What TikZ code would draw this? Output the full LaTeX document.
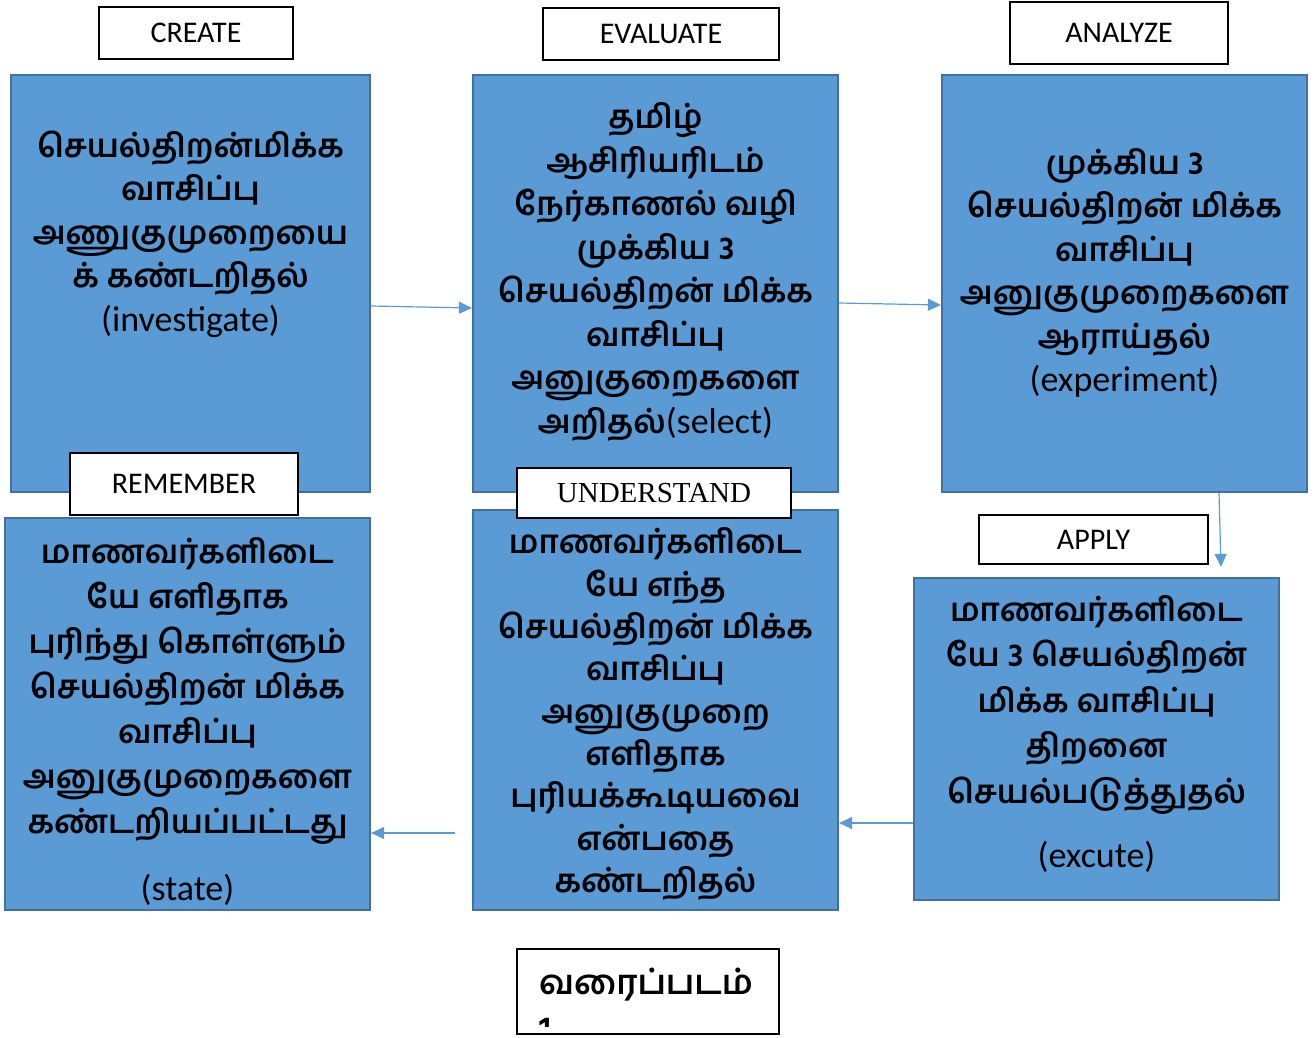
\documentclass[tikz,border=0pt]{standalone}
\usepackage{fontspec}
\setmainfont{Carlito}
\newfontfamily\tamilf[Script=Tamil]{Hind Madurai}
\newfontfamily\timesf{Liberation Serif}
\usetikzlibrary{arrows.meta}
\definecolor{boxfill}{HTML}{5B9BD5}
\definecolor{boxline}{HTML}{41719C}
\definecolor{arrowc}{HTML}{5B9BD5}
\setlength{\lineskiplimit}{-100pt}
\newcommand\latpart[1]{{\rmfamily\mdseries\fontsize{36}{44}\selectfont #1}}
\newcommand\lbltext[1]{\raisebox{-3pt}{#1}}
\begin{document}
\begin{tikzpicture}[x=1pt,y=-1pt,
  bluebox/.style={draw=boxline,line width=2.2pt,fill=boxfill,inner sep=0pt},
  labelbox/.style={draw=black,line width=1.1pt,fill=white,inner sep=0pt,font=\fontsize{30}{32}\selectfont},
  tamiltext/.style={align=center,inner sep=0pt,font=\tamilf\bfseries\fontsize{32.5}{#1}\selectfont},
  tamiltext/.default=43.5,
  arr/.style={draw=arrowc,line width=1.2pt,-{Triangle[length=13pt,width=12pt]}}]
\useasboundingbox (0,0) rectangle (1315,1037);
% blue boxes
\node[bluebox,minimum width=359pt,minimum height=417pt] (b1) at (190.5,283.5) {};
\node[bluebox,minimum width=365pt,minimum height=417pt] (b2) at (655.5,283.5) {};
\node[bluebox,minimum width=365pt,minimum height=417pt] (b3) at (1124.5,283.5) {};
\node[bluebox,minimum width=365pt,minimum height=322pt] (b4) at (1096.5,739) {};
\node[bluebox,minimum width=365pt,minimum height=400pt] (b5) at (655.5,710) {};
\node[bluebox,minimum width=365pt,minimum height=392pt] (b6) at (187.5,714) {};
% texts
\node[tamiltext] (t1) at (190.5,234) {செயல்திறன்மிக்க\\வாசிப்பு\\அணுகுமுறையை\\க் கண்டறிதல்\\\latpart{(investigate)}};
\node[tamiltext] (t2) at (655.5,272) {தமிழ்\\ஆசிரியரிடம்\\நேர்காணல் வழி\\முக்கிய 3\\செயல்திறன் மிக்க\\வாசிப்பு\\அனுகுறைகளை\\அறிதல்\latpart{(select)}};
\node[tamiltext] (t3) at (1124.5,273) {முக்கிய 3\\செயல்திறன் மிக்க\\வாசிப்பு\\அனுகுமுறைகளை\\ஆராய்தல்\\\latpart{(experiment)}};
\node[tamiltext=45.5] (t4) at (1096.5,734) {மாணவர்களிடை\\யே 3 செயல்திறன்\\மிக்க வாசிப்பு\\திறனை\\செயல்படுத்துதல்\\[19pt]\latpart{(excute)}};
\node[tamiltext=42.3] (t5) at (655.5,714) {மாணவர்களிடை\\யே எந்த\\செயல்திறன் மிக்க\\வாசிப்பு\\அனுகுமுறை\\எளிதாக\\புரியக்கூடியவை\\என்பதை\\கண்டறிதல்};
\node[tamiltext=45] (t6) at (187.5,721) {மாணவர்களிடை\\யே எளிதாக\\புரிந்து கொள்ளும்\\செயல்திறன் மிக்க\\வாசிப்பு\\அனுகுமுறைகளை\\கண்டறியப்பட்டது\\[22pt]\latpart{(state)}};
% label boxes
\node[labelbox,minimum width=194pt,minimum height=52pt] (lcreate) at (196,33) {\lbltext{CREATE}};
\node[labelbox,minimum width=236pt,minimum height=52pt] (leval) at (661,34) {\lbltext{EVALUATE}};
\node[labelbox,minimum width=218pt,minimum height=62pt] (lanalyze) at (1119,33) {\lbltext{ANALYZE}};
\node[labelbox,minimum width=229pt,minimum height=49pt] (lapply) at (1093.5,539.5) {\lbltext{APPLY}};
\node[labelbox,minimum width=228pt,minimum height=62pt] (lremember) at (184,484) {REMEMBER};
\node[labelbox,minimum width=274pt,minimum height=50pt,font=\timesf\fontsize{29}{32}\selectfont] (lunder) at (654,493) {\lbltext{UNDERSTAND}};
% arrows
\draw[arr] ([yshift=-22.5pt]b1.east) -- ([yshift=-24.5pt]b2.west);
\draw[arr] ([yshift=-19.5pt]b2.east) -- ([yshift=-21.5pt]b3.west);
\draw[arr] ([xshift=94.5pt]b3.south) -- ([xshift=124.5pt,yshift=10pt]b4.north);
\draw[arr] ([yshift=-84pt]b4.west) -- ([yshift=-113pt]b5.east);
\coordinate (a6) at (455,833);
\draw[arr] (a6) -- ([yshift=-119pt]b6.east);
% caption
\node[draw=black,line width=1.1pt,fill=white,minimum width=262pt,minimum height=85pt,inner sep=0pt] (cap) at (648,991.5) {};
\begin{scope}
\clip (517,949) rectangle (779,1026);
\node[anchor=north west,align=left,inner sep=0pt,font=\tamilf\bfseries\fontsize{34}{46}\selectfont] (captext) at (539,968) {வரைப்படம்\\1};
\end{scope}
\end{tikzpicture}
\end{document}
